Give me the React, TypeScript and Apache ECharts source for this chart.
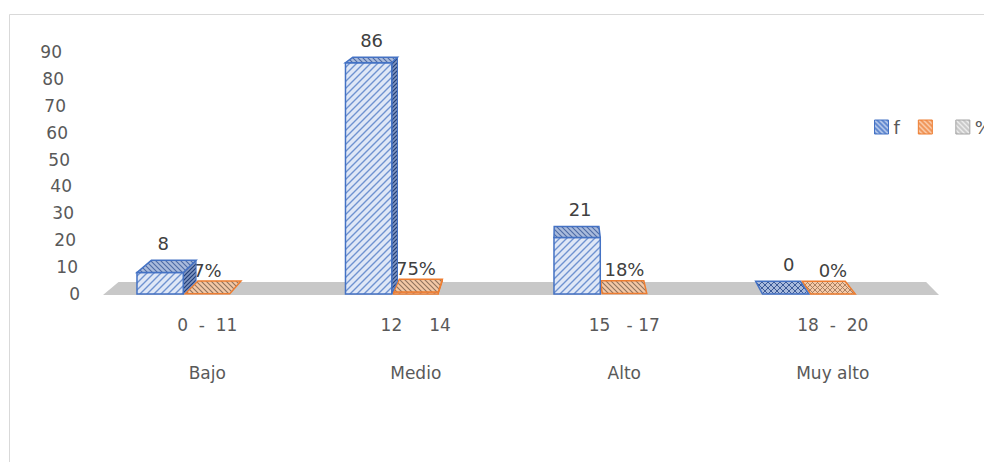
import React, { useEffect, useRef } from "react";
import * as echarts from "echarts";

// ---- data ----
const ranges = ["0  -  11", "12     14", "15   - 17", "18  -  20"];
const levels = ["Bajo", "Medio", "Alto", "Muy alto"];
const fValues = [8, 86, 21, 0];
const pctValues = [7, 75, 18, 0];
const yTicks = [0, 10, 20, 30, 40, 50, 60, 70, 80, 90];
const seriesNames = ["f", "\u200b", "%"];

// ---- style constants ----
const FONT = "'DejaVu Sans', sans-serif";
const TEXT = "#595959";
const BLUE = "#4472c4";
const ORANGE = "#ed7d31";
const VPX = 560;
const KX = 0.034;
const BLUE_OFF = [-0.337, -0.115];
const ORANGE_OFF = [-0.106, 0.108];

function dxAt(x: number) {
  return (VPX - x) * KX;
}
function dyAt(y: number) {
  return -(5 + (y - 50) * 0.032);
}

function makePattern(bg: string, fg: string, kind: string, size = 7, lw = 1.3) {
  const c = document.createElement("canvas");
  c.width = size;
  c.height = size;
  const g = c.getContext("2d")!;
  g.fillStyle = bg;
  g.fillRect(0, 0, size, size);
  g.strokeStyle = fg;
  g.lineWidth = lw;
  const up = () => {
    g.beginPath();
    g.moveTo(-1, size + 1);
    g.lineTo(size + 1, -1);
    g.moveTo(-2, 2);
    g.lineTo(2, -2);
    g.moveTo(size - 2, size + 2);
    g.lineTo(size + 2, size - 2);
    g.stroke();
  };
  const down = () => {
    g.beginPath();
    g.moveTo(-1, -1);
    g.lineTo(size + 1, size + 1);
    g.moveTo(size - 2, -2);
    g.lineTo(size + 2, 2);
    g.moveTo(-2, size - 2);
    g.lineTo(2, size + 2);
    g.stroke();
  };
  if (kind === "up") up();
  else if (kind === "down") down();
  else if (kind === "cross") {
    up();
    down();
  }
  return { image: c as any, repeat: "repeat" as const, imageWidth: size, imageHeight: size };
}

export default function App() {
  const ref = useRef<HTMLDivElement>(null);

  useEffect(() => {
    if (!ref.current) return;
    const chart = echarts.init(ref.current, undefined, { renderer: "svg" });

    const P = {
      blueFront: makePattern("#dfe7f6", "#6f92d0", "up", 7, 1.4),
      blueTop: makePattern("#a9bbdc", "#4d6aa5", "down", 5, 1.1),
      blueSide: makePattern("#7e95c2", "#233f78", "up", 4, 1.2),
      blueFlat: makePattern("#a8badc", "#3b5a98", "cross", 6, 1),
      orangeFlat: makePattern("#f3c8a6", "#8f725d", "down", 5, 1.1),
      orangeFlat0: makePattern("#f4c9a8", "#a2785b", "cross", 5, 0.9),
      legBlue: makePattern("#5f87cf", "#c9d7f0", "down", 5, 1.3),
      legOrange: makePattern("#f09559", "#fbd5b9", "down", 5, 1.3),
      legGray: makePattern("#c9c9c9", "#f0f0f0", "down", 5, 1.3),
    };

    const makeBarRender =
      (kind: "blue" | "orange") => (params: any, api: any) => {
        const i = api.value(0);
        const v = api.value(1);
        const base = api.coord([i, 0]);
        const topPt = api.coord([i, v]);
        const bw = api.size([1, 0])[0];
        const off = kind === "blue" ? BLUE_OFF : ORANGE_OFF;
        const x0 = base[0] + bw * off[0];
        const x1 = base[0] + bw * off[1];
        const yb = base[1];
        const yt = topPt[1];
        const h = yb - yt;
        const d0 = dxAt(x0);
        const d1 = dxAt(x1);
        const dyT = dyAt(yt);
        const dyB = dyAt(yb);
        const stroke = kind === "blue" ? BLUE : ORANGE;
        const children: any[] = [];
        const flat = h < 1.5;
        if (!flat && d1 > 1.5) {
          children.push({
            type: "polygon",
            shape: { points: [[x1, yt], [x1 + d1, yt + dyT], [x1 + d1, yb + dyB], [x1, yb]] },
            style: { fill: P.blueSide, stroke, lineWidth: 1 },
          });
        }
        if (!flat && d0 < -1.5) {
          children.push({
            type: "polygon",
            shape: { points: [[x0, yt], [x0 + d0, yt + dyT], [x0 + d0, yb + dyB], [x0, yb]] },
            style: { fill: P.blueSide, stroke, lineWidth: 1 },
          });
        }
        if (!flat) {
          children.push({
            type: "rect",
            shape: { x: x0, y: yt, width: x1 - x0, height: h },
            style: { fill: P.blueFront, stroke, lineWidth: 1.5 },
          });
        }
        let topFill: any;
        if (kind === "blue") topFill = flat ? P.blueFlat : P.blueTop;
        else topFill = params.dataIndex === 3 ? P.orangeFlat0 : P.orangeFlat;
        children.push({
          type: "polygon",
          shape: { points: [[x0, yt], [x1, yt], [x1 + d1, yt + dyT], [x0 + d0, yt + dyT]] },
          style: { fill: topFill, stroke, lineWidth: 1.5 },
        });
        const label =
          kind === "blue" ? String(fValues[params.dataIndex]) : pctValues[params.dataIndex] + "%";
        children.push({
          type: "text",
          style: {
            text: label,
            x: (x0 + x1) / 2 + (kind === "blue" ? 3 : 0),
            y: yt + dyT - (kind === "blue" ? 8 : 2),
            align: "center",
            verticalAlign: "bottom",
            fill: "#404040",
            fontSize: 18,
            fontFamily: FONT,
          },
          z2: 10,
        });
        return { type: "group", children };
      };

    const rich: Record<string, any> = {};
    yTicks.forEach((t, k) => {
      rich["p" + k] = {
        padding: [0, k * 2, 0, 0],
        fontSize: 17,
        fontFamily: FONT,
        color: TEXT,
      };
    });

    chart.setOption({
      animation: false,
      backgroundColor: "#ffffff",
      grid: { left: 103, right: 47, top: 52, bottom: 168 },
      graphic: [
        {
          type: "rect",
          left: 7,
          top: 12,
          shape: { width: 1000, height: 500 },
          style: { fill: "none", stroke: "#d9d9d9", lineWidth: 1 },
          silent: true,
        },
      ],
      legend: {
        left: 874,
        top: 118,
        width: 300,
        padding: 0,
        icon: "rect",
        itemWidth: 14,
        itemHeight: 14,
        itemGap: 18,
        itemTextGap: 4,
        textStyle: { fontSize: 18, color: TEXT, fontFamily: FONT },
        data: [
          { name: seriesNames[0], itemStyle: { color: P.legBlue, borderColor: BLUE, borderWidth: 1 } },
          { name: seriesNames[1], itemStyle: { color: P.legOrange, borderColor: ORANGE, borderWidth: 1 } },
          { name: seriesNames[2], itemStyle: { color: P.legGray, borderColor: "#a5a5a5", borderWidth: 1 } },
        ],
      },
      xAxis: {
        type: "category",
        data: ranges,
        axisLine: { show: false },
        axisTick: { show: false },
        splitLine: { show: false },
        axisLabel: {
          margin: 19,
          lineHeight: 24,
          fontSize: 17,
          color: TEXT,
          fontFamily: FONT,
          formatter: (v: string, i: number) => `${v}\n\n${levels[i]}`,
        },
      },
      yAxis: {
        type: "value",
        min: 0,
        max: 90,
        interval: 10,
        axisLine: { show: false },
        axisTick: { show: false },
        splitLine: { show: false },
        axisLabel: {
          margin: 23,
          fontSize: 17,
          color: TEXT,
          fontFamily: FONT,
          formatter: (v: number) => {
            const k = yTicks.indexOf(v);
            return `{p${k}|${v}}`;
          },
          rich,
        },
      },
      series: [
        {
          type: "custom",
          name: "floor",
          data: [[0, 0]],
          z: 1,
          silent: true,
          renderItem: (params: any, api: any) => {
            const cs = params.coordSys;
            const yb = api.coord([0, 0])[1] + 1;
            const xl = cs.x;
            const xr = cs.x + cs.width + 2;
            const dy = -13;
            return {
              type: "polygon",
              shape: {
                points: [
                  [xl, yb],
                  [xr, yb],
                  [xr + dxAt(xr), yb + dy],
                  [xl + dxAt(xl), yb + dy],
                ],
              },
              style: { fill: "#c8c8c8" },
            };
          },
        },
        {
          type: "custom",
          name: seriesNames[1],
          z: 2,
          itemStyle: { color: P.legOrange },
          data: pctValues.map((p, i) => [i, p / 100]),
          renderItem: makeBarRender("orange"),
        },
        {
          type: "custom",
          name: seriesNames[0],
          z: 3,
          itemStyle: { color: P.legBlue },
          data: fValues.map((v, i) => [i, v]),
          renderItem: makeBarRender("blue"),
        },
        {
          type: "custom",
          name: seriesNames[2],
          z: 2,
          itemStyle: { color: P.legGray },
          data: [],
          renderItem: () => ({ type: "group", children: [] }),
        },
      ],
    });

    return () => chart.dispose();
  }, []);

  return (
    <div
      ref={ref}
      style={{ position: "absolute", left: 0, top: 0, width: 984, height: 462 }}
    />
  );
}
